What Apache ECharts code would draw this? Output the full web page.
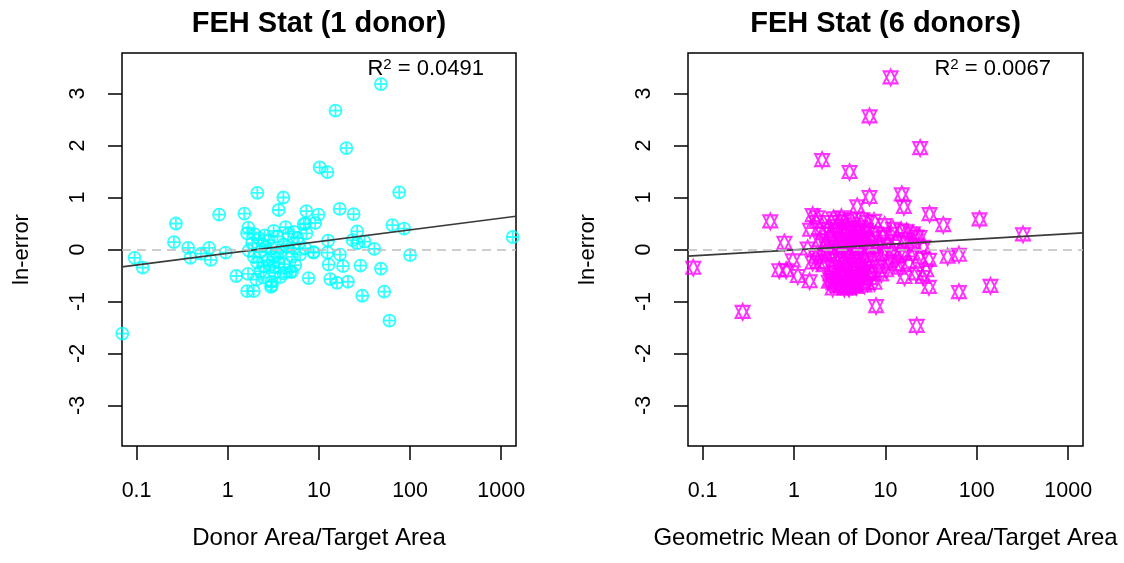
<!DOCTYPE html>
<html>
<head>
<meta charset="utf-8">
<script src="https://cdn.jsdelivr.net/npm/echarts@6/dist/echarts.min.js"></script>
<style>
  html, body { margin: 0; padding: 0; background: #fff; }
  #chart { width: 1124px; height: 563px; }
</style>
</head>
<body>
<div id="chart"></div>
<script>
// Area ratio (donor / target) against ln-error, FEH statistical method.
// Each point: [area ratio, ln-error]

const oneDonorPoints = [
  [47.9, 3.18], [15.2, 2.67], [20, 1.95], [10.2, 1.58], [12.4, 1.49], [2.11, 1.09], [4.07, 1.0],
  [76, 1.10], [3.62, 0.76], [0.805, 0.67], [1.52, 0.69], [0.27, 0.50], [7.28, 0.74], [9.9, 0.67],
  [16.9, 0.78], [24, 0.68], [64, 0.47], [86, 0.40], [1336, 0.24], [0.257, 0.14], [0.368, 0.03],
  [0.39, -0.16], [0.51, -0.08], [0.625, 0.03], [0.65, -0.20], [0.95, -0.06], [0.095, -0.16],
  [0.117, -0.35], [0.0697, -1.62], [1.24, -0.51], [1.67, -0.47], [1.63, -0.80], [1.93, -0.80],
  [3.04, -0.69], [7.7, -0.55], [12.8, -0.29], [13.3, -0.57], [15.8, -0.64], [20.8, -0.62],
  [18.4, -0.32], [28.6, -0.31], [29.9, -0.89], [47.9, -0.37], [52, -0.81], [59.4, -1.37],
  [100, -0.11], [40.5, 0.01], [17, -0.10], [12.4, -0.06], [12.6, 0.17], [23.4, 0.18], [26.3, 0.35],
  [26.3, 0.12], [31.7, 0.15], [8.7, -0.06],
  [1.63, 0.31], [1.68, 0.42], [1.98, 0.29], [2.2, 0.22], [2.54, 0.27], [2.8, 0.18], [3.19, 0.36],
  [3.5, 0.25], [4.32, 0.43], [4.6, 0.30], [5.28, 0.34], [5.8, 0.22], [6.8, 0.49], [7.3, 0.31],
  [9.1, 0.51], [7.1, 0.50], [1.85, 0.12], [1.93, -0.14], [2.28, -0.05], [2.6, 0.05], [2.70, -0.21],
  [3.0, 0.02], [3.19, -0.14], [3.5, -0.08], [3.78, -0.05], [4.1, 0.10], [4.47, 0.05], [5.07, -0.14],
  [5.28, 0.02], [6.0, 0.12], [7.1, 0.02], [8.75, -0.05], [1.7, -0.02], [2.1, -0.25], [2.4, 0.08],
  [2.48, -0.33], [2.9, -0.30], [3.19, -0.33], [3.6, -0.25], [4.1, -0.46], [4.86, -0.43], [4.2, -0.28],
  [5.5, -0.30], [2.06, -0.58], [2.48, -0.54], [3.04, -0.62], [2.98, -0.72], [3.78, -0.53], [2.3, -0.42],
  [5.07, -0.43], [6.2, -0.10], [3.3, -0.45]
];

const sixDonorPoints = [
  [11.4, 3.31], [6.7, 2.56], [24, 1.95], [2.03, 1.72], [4.05, 1.49], [6.7, 1.01], [15.1, 1.06],
  [15.9, 0.82], [4.91, 0.83], [30.4, 0.68], [43, 0.47], [107, 0.58], [320, 0.29], [0.55, 0.54],
  [0.785, 0.13], [0.079, -0.35], [0.274, -1.20], [0.82, -0.40], [0.97, -0.21], [1.10, -0.51],
  [1.48, -0.61], [7.9, -1.09], [22, -1.47], [29.9, -0.72], [63.7, -0.82], [141, -0.70], [48, -0.14],
  [63.7, -0.10], [1.60, 0.66], [0.69, -0.40], [1.82, -0.24],
  [1.75, 0.53], [1.41, 0.02], [1.75, -0.14], [2.55, 0.53], [3.14, 0.53], [2.06, 0.31], [2.55, -0.59],
  [2.65, -0.75], [3.56, -0.75], [4.79, -0.72], [5.9, -0.69], [7.6, -0.64], [6.4, 0.53], [9.8, 0.47],
  [12.1, 0.40], [14.9, 0.37], [20, 0.31], [23.6, 0.24], [13.7, -0.14], [15.5, -0.08], [20, -0.08],
  [23.6, -0.14], [16.2, -0.53], [21.7, -0.46], [28, -0.40], [25.7, -0.53], [8.6, -0.33], [10.2, -0.40],
  [9.4, -0.08], [12.1, -0.01], [7.9, 0.05], [6.2, 0.18], [5.2, 0.43],
  [2.2, 0.12], [2.4, -0.05], [2.6, 0.22], [2.8, 0.05], [2.9, -0.20], [3.0, 0.35], [3.1, -0.38],
  [3.2, 0.15], [3.3, -0.10], [3.4, -0.52], [3.5, 0.28], [3.6, 0.02], [3.7, -0.28], [3.8, -0.62],
  [3.9, 0.42], [4.0, -0.15], [4.1, 0.10], [4.2, -0.45], [4.3, 0.25], [4.4, -0.32], [4.5, -0.05],
  [4.6, -0.68], [4.7, 0.18], [4.8, -0.22], [4.9, 0.05], [5.0, -0.55], [5.1, 0.32], [5.3, -0.38],
  [5.5, 0.12], [5.7, -0.12], [5.9, -0.45], [6.1, 0.38], [6.3, -0.25], [6.5, 0.02], [6.8, -0.55],
  [7.0, 0.22], [7.3, -0.18], [7.8, 0.30], [8.2, -0.10], [8.8, 0.15], [9.5, 0.25], [10.5, 0.10],
  [11.0, -0.22], [11.5, 0.30], [13.0, 0.15], [14.0, -0.35], [16.5, 0.20], [18.0, -0.25], [19.0, 0.10],
  [2.1, -0.30], [2.3, 0.40], [2.5, -0.48], [2.7, -0.65], [3.2, -0.70], [4.0, -0.75], [4.4, -0.70],
  [5.4, -0.62], [2.0, -0.10], [1.9, 0.18], [1.6, -0.25], [1.5, 0.38], [1.8, 0.62], [2.7, 0.60],
  [3.6, 0.55], [4.5, 0.48], [5.6, 0.58], [7.5, 0.55], [3.3, 0.62], [4.2, 0.58], [2.3, 0.02],
  [6.0, -0.35], [7.0, -0.45], [9.0, -0.48], [12.5, -0.28], [17.0, 0.35], [26.0, 0.05], [30.0, -0.20],
  [22.0, 0.25],
  [2.5, 0.30], [2.7, -0.10], [2.9, 0.45], [3.0, -0.55], [3.1, 0.20], [3.3, -0.25], [3.4, 0.08],
  [3.5, -0.62], [3.7, 0.32], [3.8, -0.40], [3.9, -0.05], [4.1, -0.60], [4.2, 0.38], [4.4, 0.12],
  [4.6, -0.30], [4.8, 0.35], [5.0, -0.20], [5.2, 0.05], [5.5, -0.50], [5.8, 0.25], [2.6, -0.35],
  [2.8, -0.45], [3.6, -0.45], [4.3, -0.55], [4.9, -0.65], [3.0, -0.70], [3.9, -0.72], [2.4, -0.62],
  [5.6, -0.30], [6.4, -0.65]
];

// fitted ln-error at the two ends of the x range
const oneDonorFit = [-0.334, 0.64];
const sixDonorFit = [-0.129, 0.32];

const panelTitles = ['FEH Stat (1 donor)', 'FEH Stat (6 donors)'];
const xTitles = ['Donor Area/Target Area', 'Geometric Mean of Donor Area/Target Area'];
const yTitle = 'ln-error';
const r2Labels = ['0.0491', '0.0067'];

const xTickValues = [0.1, 1, 10, 100, 1000];
const yTickValues = [-3, -2, -1, 0, 1, 2, 3];
const xRange = [0.0692, 1452];
const yRange = [-3.78, 3.78];

const FONT = '"Liberation Sans", Arial, Helvetica, sans-serif';
const lg = Math.log10;

// symbols: circle with cross, and two superimposed triangles
const circlePlus = 'path://M0,-1A1,1 0 1,1 0,1A1,1 0 1,1 0,-1ZM-1,0L1,0M0,-1L0,1';
const triUpDown = 'path://M0,-1L0.866,0.75L-0.866,0.75ZM0,1L0.866,-0.75L-0.866,-0.75Z';

const grids = [
  { left: 122, top: 53, width: 394, height: 393 },
  { left: 688, top: 53, width: 395, height: 393 }
];

function xLabel(v) {
  for (const t of xTickValues) {
    if (Math.abs(lg(t) - v) < 1e-6) return String(t);
  }
  return '';
}

function makeXAxis(i) {
  const ticks = xTickValues.map(lg);
  return {
    type: 'value', gridIndex: i, position: 'bottom',
    min: lg(xRange[0]), max: lg(xRange[1]),
    name: xTitles[i], nameLocation: 'middle', nameGap: 80,
    nameTextStyle: { fontSize: 24, color: '#000', fontFamily: FONT },
    axisLine: { show: false, onZero: false },
    axisTick: { show: true, length: 14, lineStyle: { color: '#000', width: 1.5 }, customValues: ticks },
    axisLabel: { show: true, margin: 34, fontSize: 21.5, color: '#000', fontFamily: FONT,
                 customValues: ticks, formatter: xLabel },
    splitLine: { show: false }
  };
}

function makeYAxis(i) {
  return {
    type: 'value', gridIndex: i, position: 'left',
    min: yRange[0], max: yRange[1],
    name: yTitle, nameLocation: 'middle', nameGap: 89, nameRotate: 90,
    nameTextStyle: { fontSize: 22, color: '#000', fontFamily: FONT },
    axisLine: { show: false, onZero: false },
    axisTick: { show: true, length: 14, lineStyle: { color: '#000', width: 1.5 }, customValues: yTickValues },
    axisLabel: { show: true, margin: 33, rotate: 90, fontSize: 21.5, color: '#000', fontFamily: FONT,
                 customValues: yTickValues },
    splitLine: { show: false }
  };
}

function scatterSeries(i, points, symbol, size, color, width) {
  return {
    type: 'scatter', xAxisIndex: i, yAxisIndex: i,
    data: points.map(p => [lg(p[0]), p[1]]),
    symbol: symbol, symbolSize: size,
    itemStyle: { color: 'rgba(0,0,0,0)', borderColor: color, borderWidth: width },
    emphasis: { disabled: true },
    silent: true,
    z: 3,
    markLine: {
      silent: true, symbol: 'none', label: { show: false },
      lineStyle: { type: [9, 6], color: '#bdbdbd', width: 1.5 },
      data: [{ yAxis: 0 }]
    }
  };
}

function fitSeries(i, fit) {
  return {
    type: 'line', xAxisIndex: i, yAxisIndex: i,
    data: [[lg(xRange[0]), fit[0]], [lg(xRange[1]), fit[1]]],
    symbol: 'none', silent: true, z: 4,
    lineStyle: { color: '#3a3a3a', width: 1.7 }
  };
}

const centers = grids.map(g => g.left + g.width / 2);
const rights = grids.map(g => g.left + g.width - 32);

const titles = [];
for (let i = 0; i < 2; i++) {
  titles.push({
    text: panelTitles[i], left: centers[i], top: 9, textAlign: 'center', padding: 0,
    textStyle: { fontSize: 29, fontWeight: 'bold', color: '#000', fontFamily: FONT }
  });
  titles.push({
    text: '{a|R}{b|2}{a| = ' + r2Labels[i] + '}', left: rights[i], top: 57, textAlign: 'right', padding: 0,
    textStyle: {
      fontWeight: 'normal',
      rich: {
        a: { fontSize: 22, lineHeight: 24, fontWeight: 'normal', color: '#000', fontFamily: FONT },
        b: { fontSize: 15, lineHeight: 6, verticalAlign: 'top', fontWeight: 'normal', color: '#000', fontFamily: FONT }
      }
    }
  });
}

const chart = echarts.init(document.getElementById('chart'), null, { renderer: 'canvas' });
chart.setOption({
  backgroundColor: '#fff',
  animation: false,
  title: titles,
  grid: grids.map(g => Object.assign({ show: true, borderColor: '#000', borderWidth: 1.5, containLabel: false }, g)),
  xAxis: [makeXAxis(0), makeXAxis(1)],
  yAxis: [makeYAxis(0), makeYAxis(1)],
  series: [
    scatterSeries(0, oneDonorPoints, circlePlus, 12, '#00FFFF', 1.8),
    fitSeries(0, oneDonorFit),
    scatterSeries(1, sixDonorPoints, triUpDown, [14, 16], '#FF00FF', 2),
    fitSeries(1, sixDonorFit)
  ]
});
</script>
</body>
</html>
